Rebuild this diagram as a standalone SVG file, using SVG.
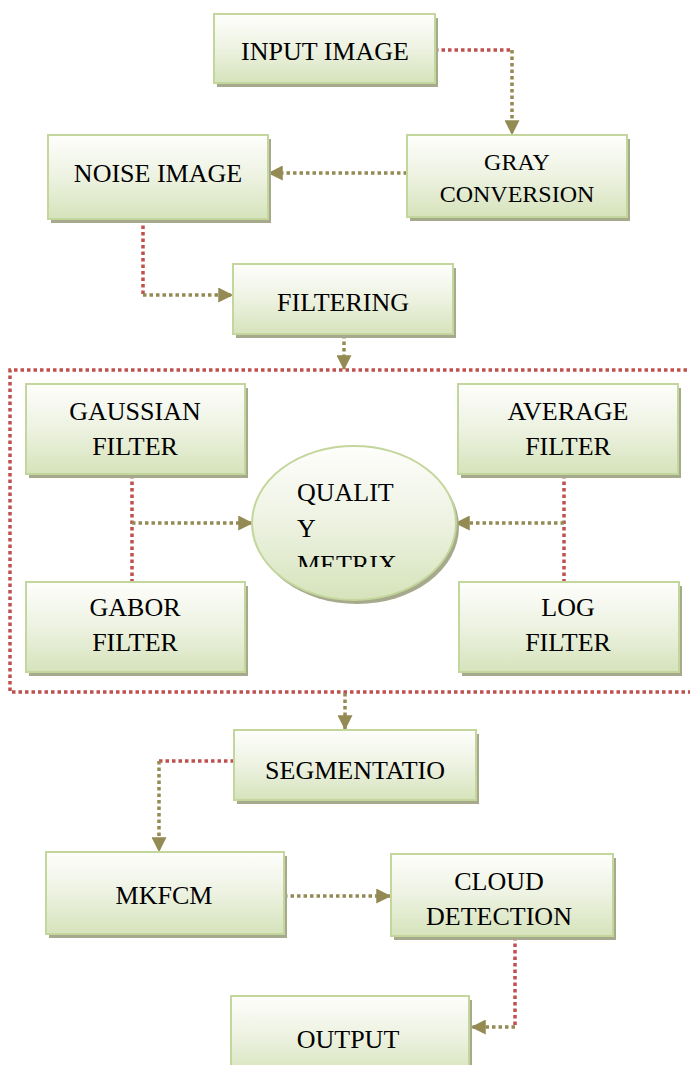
<svg xmlns="http://www.w3.org/2000/svg" width="690" height="1065" viewBox="0 0 690 1065">
<style>
.box{fill:url(#g);stroke:#c3d69b;stroke-width:2}
.sh{fill:#a6a98c}
.t{font-family:"Liberation Serif","Times New Roman",serif;font-size:26px;fill:#000;text-anchor:middle}
.ts{font-size:24px}
.l{text-anchor:start}
.red{fill:none;stroke:#c0504d;stroke-width:3.5;stroke-dasharray:3.5 3}
.ol{fill:none;stroke:#948a54;stroke-width:3.5;stroke-dasharray:3.5 3}
</style>
<defs>
<linearGradient id="g" x1="0" y1="0" x2="0" y2="1">
<stop offset="0" stop-color="#fefefc"/>
<stop offset="0.5" stop-color="#edf2e1"/>
<stop offset="1" stop-color="#d6e3bb"/>
</linearGradient>
<marker id="a" markerUnits="userSpaceOnUse" markerWidth="15" markerHeight="15" viewBox="0 0 12 12" refX="11" refY="6" orient="auto">
<path d="M0,0 L12,6 L0,12 z" fill="#948a54"/>
</marker>
<clipPath id="qc"><rect x="250" y="440" width="210" height="127"/></clipPath>
</defs>

<g id="connectors">
<path class="red" d="M700,370 H10 V692 H700"/>
<path class="red" d="M435,50 H512"/>
<path class="ol" d="M512,50 V134" marker-end="url(#a)"/>
<path class="ol" d="M407,173 H269" marker-end="url(#a)"/>
<path class="red" d="M143,219 V295"/>
<path class="ol" d="M143,295 H232" marker-end="url(#a)"/>
<path class="ol" d="M344,335 V369" marker-end="url(#a)"/>
<path class="red" d="M132,475 V582"/>
<path class="ol" d="M132,523 H252" marker-end="url(#a)"/>
<path class="red" d="M564,475 V582"/>
<path class="ol" d="M564,523 H456" marker-end="url(#a)"/>
<path class="ol" d="M345,693 V729" marker-end="url(#a)"/>
<path class="red" d="M234,761 H159"/>
<path class="ol" d="M159,761 V851" marker-end="url(#a)"/>
<path class="ol" d="M284,896 H390" marker-end="url(#a)"/>
<path class="red" d="M515,937 V1027"/>
<path class="ol" d="M515,1027 H472" marker-end="url(#a)"/>
</g>

<g id="input">
<rect class="sh" x="217" y="18" width="221" height="69"/>
<rect class="box" x="214" y="14" width="221" height="69"/>
<text class="t" x="325" y="60">INPUT IMAGE</text>
</g>
<g id="gray">
<rect class="sh" x="410" y="139" width="220" height="82"/>
<rect class="box" x="407" y="135" width="220" height="82"/>
<text class="t ts" x="517" y="170">GRAY</text>
<text class="t ts" x="517" y="202">CONVERSION</text>
</g>
<g id="noise">
<rect class="sh" x="51" y="139" width="220" height="84"/>
<rect class="box" x="48" y="135" width="220" height="84"/>
<text class="t" x="158" y="182">NOISE IMAGE</text>
</g>
<g id="filtering">
<rect class="sh" x="236" y="268" width="220" height="70"/>
<rect class="box" x="233" y="264" width="220" height="70"/>
<text class="t" x="343" y="311">FILTERING</text>
</g>
<g id="gaussian">
<rect class="sh" x="29" y="388" width="219" height="90"/>
<rect class="box" x="26" y="384" width="219" height="90"/>
<text class="t" x="135" y="420">GAUSSIAN</text>
<text class="t" x="135" y="455">FILTER</text>
</g>
<g id="average">
<rect class="sh" x="461" y="388" width="220" height="90"/>
<rect class="box" x="458" y="384" width="220" height="90"/>
<text class="t" x="568" y="420">AVERAGE</text>
<text class="t" x="568" y="455">FILTER</text>
</g>
<g id="gabor">
<rect class="sh" x="29" y="586" width="219" height="90"/>
<rect class="box" x="26" y="582" width="219" height="90"/>
<text class="t" x="135" y="616">GABOR</text>
<text class="t" x="135" y="651">FILTER</text>
</g>
<g id="log">
<rect class="sh" x="462" y="586" width="220" height="90"/>
<rect class="box" x="459" y="582" width="220" height="90"/>
<text class="t" x="568" y="616">LOG</text>
<text class="t" x="568" y="651">FILTER</text>
</g>
<g id="quality">
<ellipse class="sh" cx="357" cy="527" rx="102" ry="77"/>
<ellipse class="box" cx="354" cy="523" rx="102" ry="77"/>
<g clip-path="url(#qc)">
<text class="t l" x="297" y="501">QUALIT</text>
<text class="t l" x="297" y="537">Y</text>
<text class="t l" x="297" y="573">METRIX</text>
</g>
</g>
<g id="segmentation">
<rect class="sh" x="237" y="734" width="242" height="70"/>
<rect class="box" x="234" y="730" width="242" height="70"/>
<text class="t" x="355" y="779">SEGMENTATIO</text>
</g>
<g id="mkfcm">
<rect class="sh" x="49" y="856" width="238" height="82"/>
<rect class="box" x="46" y="852" width="238" height="82"/>
<text class="t" x="164" y="904">MKFCM</text>
</g>
<g id="cloud">
<rect class="sh" x="394" y="858" width="222" height="82"/>
<rect class="box" x="391" y="854" width="222" height="82"/>
<text class="t" x="499" y="890">CLOUD</text>
<text class="t" x="499" y="925">DETECTION</text>
</g>
<g id="output">
<rect class="sh" x="234" y="1000" width="238" height="80"/>
<rect class="box" x="231" y="996" width="238" height="80"/>
<text class="t" x="348" y="1048">OUTPUT</text>
</g>
</svg>
